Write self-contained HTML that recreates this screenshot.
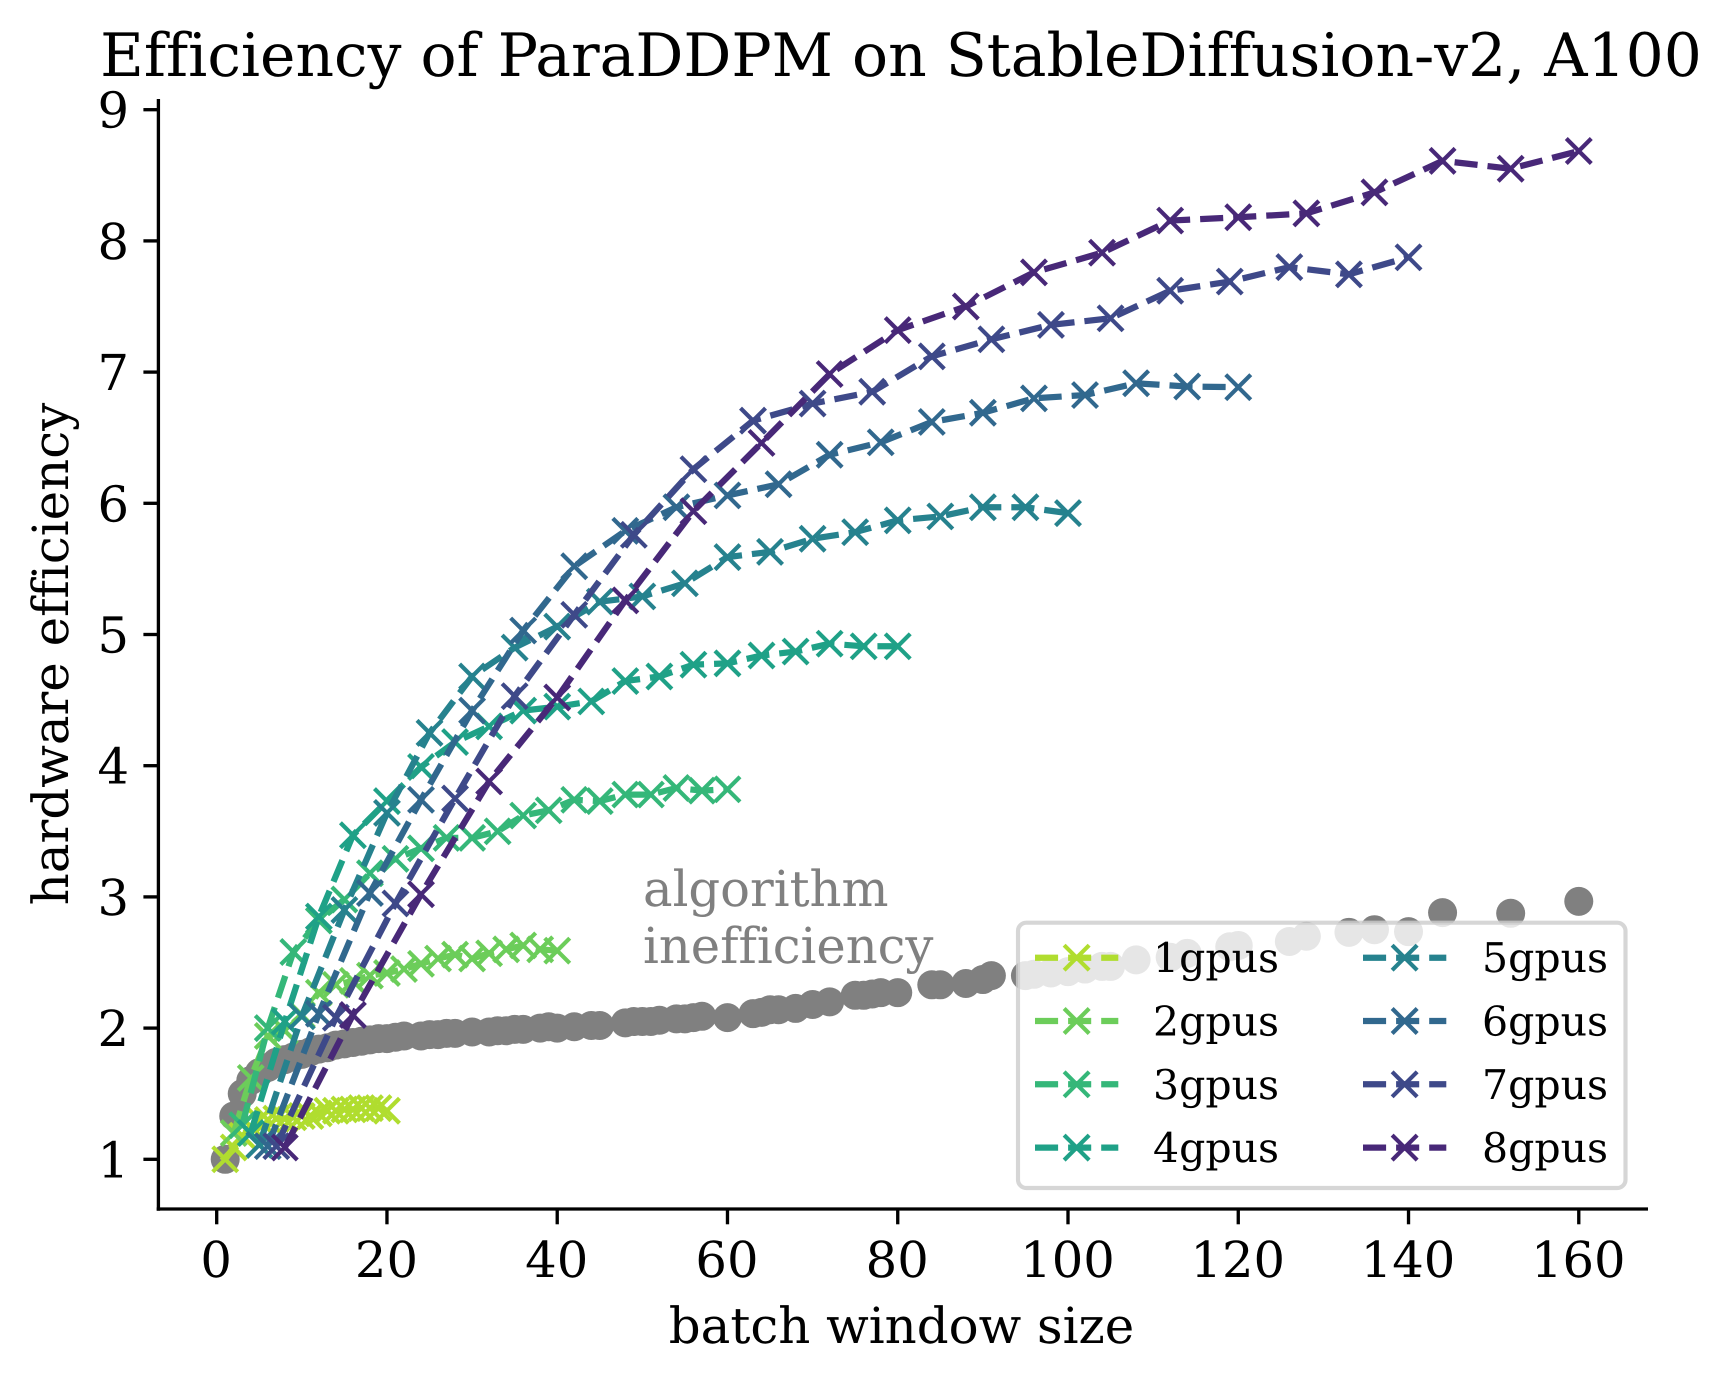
<!DOCTYPE html>
<html lang="en">
<head>
<meta charset="utf-8">
<title>Efficiency of ParaDDPM on StableDiffusion-v2, A100</title>
<style>
  html, body { margin: 0; padding: 0; background: #fff; }
  body { width: 1733px; height: 1384px; overflow: hidden; }
  svg { display: block; }
  text {
    font-family: "DejaVu Serif", "Liberation Serif", serif;
    font-variant-ligatures: none;
    text-rendering: geometricPrecision;
  }
</style>
</head>
<body>
<svg id="chart" xmlns="http://www.w3.org/2000/svg" width="1733" height="1384" viewBox="0 0 1733 1384">
  <rect x="0" y="0" width="1733" height="1384" fill="#ffffff"/>
  <text x="901" y="76" font-size="59.9" text-anchor="middle" fill="#000">Efficiency of ParaDDPM on StableDiffusion-v2, A100</text>
  <text x="901.5" y="1343" font-size="49.8" text-anchor="middle" fill="#000">batch window size</text>
  <text transform="translate(68 654) rotate(-90)" font-size="49.8" text-anchor="middle" fill="#000">hardware efficiency</text>
  <g id="efficiency-gap-layer"></g>
  <g id="series-layer"></g>
  <g>
    <text x="643" y="906" font-size="49.6" fill="#808080">algorithm</text>
    <text x="643" y="963" font-size="49.6" fill="#808080">inefficiency</text>
  </g>
  <g id="axes-layer"></g>
  <g id="legend-layer">
    <rect x="1018" y="922.7" width="607.5" height="265.3" rx="8.3" ry="8.3" fill="#ffffff" fill-opacity="0.8" stroke="#cccccc" stroke-opacity="0.8" stroke-width="4.17"/>
  </g>
</svg>
<script>
const xTickLabels = [0, 20, 40, 60, 80, 100, 120, 140, 160];
const yTickLabels = [1, 2, 3, 4, 5, 6, 7, 8, 9];

const seriesLabels = ['1gpus', '2gpus', '3gpus', '4gpus', '5gpus', '6gpus', '7gpus', '8gpus'];
const seriesColors = ['#b0dd2f', '#6ccd5a', '#35b779', '#1fa187', '#26828e', '#31688e', '#3e4989', '#482878'];

const windows1 = [1, 2, 3, 4, 5, 6, 7, 8, 9, 10, 11, 12, 13, 14, 15, 16, 17, 18, 19, 20];
const values1 = [1.0, 1.09, 1.18, 1.25, 1.3, 1.3, 1.31, 1.31, 1.32, 1.33, 1.33, 1.35, 1.37, 1.37, 1.38, 1.38, 1.39, 1.39, 1.39, 1.37];

const windows2 = [2, 4, 6, 8, 10, 12, 14, 16, 18, 20, 22, 24, 26, 28, 30, 32, 34, 36, 38, 40];
const values2 = [1.2, 1.62, 1.94, 1.98, 2.1, 2.27, 2.33, 2.36, 2.4, 2.42, 2.45, 2.49, 2.53, 2.56, 2.53, 2.57, 2.6, 2.63, 2.6, 2.59];

const windows3 = [3, 6, 9, 12, 15, 18, 21, 24, 27, 30, 33, 36, 39, 42, 45, 48, 51, 54, 57, 60];
const values3 = [1.26, 2.0, 2.58, 2.82, 2.98, 3.18, 3.29, 3.37, 3.45, 3.45, 3.5, 3.62, 3.66, 3.74, 3.73, 3.78, 3.78, 3.83, 3.81, 3.82];

const windows4 = [4, 8, 12, 16, 20, 24, 28, 32, 36, 40, 44, 48, 52, 56, 60, 64, 68, 72, 76, 80];
const values4 = [1.2, 2.05, 2.85, 3.47, 3.73, 3.99, 4.18, 4.3, 4.42, 4.45, 4.49, 4.645, 4.68, 4.77, 4.78, 4.84, 4.87, 4.93, 4.91, 4.91];

const windows5 = [5, 10, 15, 20, 25, 30, 35, 40, 45, 50, 55, 60, 65, 70, 75, 80, 85, 90, 95, 100];
const values5 = [1.11, 2.09, 2.9, 3.64, 4.25, 4.68, 4.9, 5.06, 5.25, 5.29, 5.39, 5.59, 5.63, 5.73, 5.78, 5.87, 5.9, 5.97, 5.97, 5.925];

const windows6 = [6, 12, 18, 24, 30, 36, 42, 48, 54, 60, 66, 72, 78, 84, 90, 96, 102, 108, 114, 120];
const values6 = [1.1, 2.11, 3.03, 3.74, 4.42, 5.03, 5.52, 5.79, 5.97, 6.06, 6.145, 6.37, 6.465, 6.62, 6.69, 6.8, 6.825, 6.915, 6.89, 6.885];

const windows7 = [7, 14, 21, 28, 35, 42, 49, 56, 63, 70, 77, 84, 91, 98, 105, 112, 119, 126, 133, 140];
const values7 = [1.1, 2.08, 2.95, 3.75, 4.53, 5.15, 5.76, 6.26, 6.63, 6.76, 6.85, 7.12, 7.25, 7.36, 7.41, 7.62, 7.69, 7.8, 7.745, 7.875];

const windows8 = [8, 16, 24, 32, 40, 48, 56, 64, 72, 80, 88, 96, 104, 112, 120, 128, 136, 144, 152, 160];
const values8 = [1.09, 2.1, 3.02, 3.88, 4.52, 5.26, 5.94, 6.46, 6.985, 7.32, 7.5, 7.76, 7.91, 8.155, 8.18, 8.21, 8.37, 8.61, 8.55, 8.685];

const gapWindows = [1, 2, 3, 4, 5, 6, 7, 8, 9, 10, 11, 12, 13, 14, 15, 16, 17, 18, 19, 20, 21, 22, 24, 25, 26, 27, 28, 30, 32, 33, 34, 35, 36, 38, 39, 40, 42, 44, 45, 48, 49, 50, 51, 52, 54, 55, 56, 57, 60, 63, 64, 65, 66, 68, 70, 72, 75, 76, 77, 78, 80, 84, 85, 88, 90, 91, 95, 96, 98, 100, 102, 104, 105, 108, 112, 114, 119, 120, 126, 128, 133, 136, 140, 144, 152, 160];
const gapValues = [1.0, 1.33, 1.5, 1.6, 1.66, 1.7, 1.74, 1.76, 1.78, 1.8, 1.82, 1.84, 1.85, 1.87, 1.88, 1.89, 1.9, 1.91, 1.92, 1.92, 1.93, 1.94, 1.94, 1.95, 1.95, 1.96, 1.96, 1.97, 1.97, 1.98, 1.98, 1.99, 1.99, 2.0, 2.01, 2.0, 2.01, 2.02, 2.02, 2.04, 2.05, 2.05, 2.05, 2.06, 2.07, 2.07, 2.08, 2.09, 2.08, 2.11, 2.12, 2.14, 2.14, 2.15, 2.18, 2.2, 2.25, 2.25, 2.26, 2.27, 2.27, 2.33, 2.33, 2.34, 2.37, 2.4, 2.4, 2.41, 2.42, 2.43, 2.45, 2.47, 2.47, 2.52, 2.54, 2.57, 2.62, 2.63, 2.66, 2.7, 2.73, 2.75, 2.735, 2.88, 2.875, 2.966];

const windowsBySeries = [windows1, windows2, windows3, windows4, windows5, windows6, windows7, windows8];
const valuesBySeries = [values1, values2, values3, values4, values5, values6, values7, values8];

const NS = 'http://www.w3.org/2000/svg';
const X_ZERO = 216.7;
const X_UNIT = 8.513;
const Y_ONE = 1159.3;
const Y_UNIT = 131.2;
const LINE_WIDTH = 6.25;
const MARKER_HALF = 12.5;
const MARKER_WIDTH = 4.17;

function xScale(v) { return X_ZERO + X_UNIT * v; }
function yScale(v) { return Y_ONE - Y_UNIT * (v - 1); }

function make(tag, parent, attrs) {
  const node = document.createElementNS(NS, tag);
  Object.keys(attrs).forEach(function (k) { node.setAttribute(k, attrs[k]); });
  parent.appendChild(node);
  return node;
}

function drawCross(parent, cx, cy, color, name) {
  const d = 'M' + (cx - MARKER_HALF) + ' ' + (cy - MARKER_HALF) + 'L' + (cx + MARKER_HALF) + ' ' + (cy + MARKER_HALF) +
            'M' + (cx - MARKER_HALF) + ' ' + (cy + MARKER_HALF) + 'L' + (cx + MARKER_HALF) + ' ' + (cy - MARKER_HALF);
  const el = make('path', parent, { d: d, fill: 'none', stroke: color, 'stroke-width': MARKER_WIDTH });
  
  
  return el;
}

const gapLayer = document.getElementById('efficiency-gap-layer');
gapWindows.forEach(function (w, i) {
  const el = make('circle', gapLayer, { cx: xScale(w), cy: yScale(gapValues[i]), r: 14.5, fill: '#808080' });
  
  
});

const seriesLayer = document.getElementById('series-layer');
seriesLabels.forEach(function (label, s) {
  const color = seriesColors[s];
  const xs = windowsBySeries[s];
  const ys = valuesBySeries[s];
  const group = make('g', seriesLayer, {});
  
  
  const points = xs.map(function (w, i) { return xScale(w) + ',' + yScale(ys[i]); }).join(' ');
  const line = make('polyline', group, {
    points: points, fill: 'none', stroke: color, 'stroke-width': LINE_WIDTH,
    'stroke-dasharray': '23.1 10', 'stroke-linejoin': 'round', 'stroke-linecap': 'butt'
  });
  
  
  xs.forEach(function (w, i) {
    drawCross(group, xScale(w), yScale(ys[i]), color, 'marker-' + label);
  });
});

const axesLayer = document.getElementById('axes-layer');
const leftSpine = make('line', axesLayer, { x1: 158.4, y1: 99, x2: 158.4, y2: 1210.7, stroke: '#000', 'stroke-width': 3.33 });


const bottomSpine = make('line', axesLayer, { x1: 156.7, y1: 1209, x2: 1648, y2: 1209, stroke: '#000', 'stroke-width': 3.33 });



xTickLabels.forEach(function (t) {
  const px = xScale(t);
  const tick = make('line', axesLayer, { x1: px, y1: 1209, x2: px, y2: 1224.3, stroke: '#000', 'stroke-width': 3.33 });
  
  
  const txt = make('text', axesLayer, { x: px - 0.5, y: 1277, 'font-size': 49.6, 'text-anchor': 'middle', fill: '#000' });
  txt.textContent = String(t);
  
  
});

yTickLabels.forEach(function (t) {
  const py = yScale(t);
  const tick = make('line', axesLayer, { x1: 143.4, y1: py, x2: 158.4, y2: py, stroke: '#000', 'stroke-width': 3.33 });
  
  
  const txt = make('text', axesLayer, { x: 129, y: py + 18, 'font-size': 49.6, 'text-anchor': 'end', fill: '#000' });
  txt.textContent = String(t);
  
  
});

const legendLayer = document.getElementById('legend-layer');
seriesLabels.forEach(function (label, s) {
  const col = s < 4 ? 0 : 1;
  const row = s % 4;
  const x0 = col === 0 ? 1035 : 1363;
  const textX = col === 0 ? 1153 : 1482;
  const cy = 957.7 + row * 63.3;
  const color = seriesColors[s];
  const entry = make('g', legendLayer, {});
  
  
  const ln = make('line', entry, {
    x1: x0, y1: cy, x2: x0 + 83.3, y2: cy, stroke: color, 'stroke-width': LINE_WIDTH, 'stroke-dasharray': '23.1 10'
  });
  
  
  drawCross(entry, x0 + 41.65, cy, color, 'legend-marker-' + label);
  const txt = make('text', entry, { x: textX, y: cy + 14.5, 'font-size': 41, fill: '#000' });
  txt.textContent = label;
  
  
});
</script>
</body>
</html>
